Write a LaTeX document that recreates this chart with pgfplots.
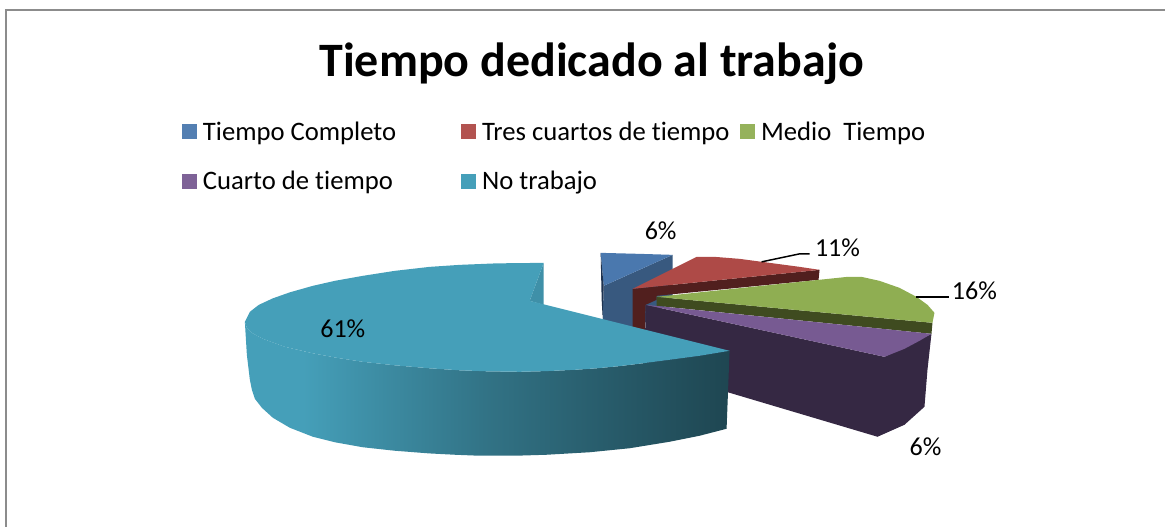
\documentclass[border=0pt]{standalone}
\usepackage{fontspec}
\setmainfont{Carlito}[Ligatures=NoCommon]
\usepackage{pgfplots}
\pgfplotsset{compat=1.18}
\definecolor{blueT}{HTML}{4A78AE}
\definecolor{blueS}{HTML}{38597F}
\definecolor{blueD}{HTML}{1E3350}
\definecolor{redT}{HTML}{AE4A47}
\definecolor{redS}{HTML}{511F1E}
\definecolor{greenT}{HTML}{8FAE52}
\definecolor{greenS}{HTML}{3F4B20}
\definecolor{purpleT}{HTML}{775A92}
\definecolor{purpleS}{HTML}{352843}
\definecolor{tealT}{HTML}{459FB9}
\definecolor{tealI}{HTML}{3F90A8}
\definecolor{frame}{HTML}{8C8C8C}
% side wall of the big slice: stops 25bp..75bp span the slice's width
\pgfdeclarehorizontalshading{tealside}{100bp}{
  color(0bp)=(tealT); color(27bp)=(tealT); color(31bp)=(tealT);
  color(39bp)=(tealT!88!black); color(50bp)=(tealT!72!black);
  color(62bp)=(tealT!58!black); color(75bp)=(tealT!44!black); color(100bp)=(tealT!44!black)}
\newcommand{\lgd}[1]{\makebox[190.25pt][l]{\hspace*{2.6pt}#1}}
\begin{document}
\begin{tikzpicture}
\begin{axis}[
  scale only axis, width=874.5pt, height=395.25pt,
  xmin=0, xmax=1166, ymin=0, ymax=527, y dir=reverse,
  axis lines=none, clip=false,
  legend columns=3,
  legend cell align=left,
  legend image code/.code={\fill[#1] (0pt,-5.6pt) rectangle (11.2pt,5.6pt);},
  legend style={at={(axis cs:182,119)}, anchor=north west, draw=none, fill=none,
    inner sep=0pt, outer sep=0pt, font=\fontsize{20}{24}\selectfont,
    /tikz/every even column/.append style={column sep=4pt},
    row sep=18pt},
]
\path (axis cs:0,0) rectangle (axis cs:1166,527);
\addlegendimage{fill=blueT!95!white, draw=none}
\addlegendentry{\lgd{Tiempo Completo}}
\addlegendimage{fill=redT!95!white, draw=none}
\addlegendentry{\lgd{Tres cuartos de tiempo}}
\addlegendimage{fill=greenT!95!white, draw=none}
\addlegendentry{\hspace*{2.6pt}Medio\ \ Tiempo}
\addlegendimage{fill=purpleT!95!white, draw=none}
\addlegendentry{\lgd{Cuarto de tiempo}}
\addlegendimage{fill=tealT, draw=none}
\addlegendentry{\lgd{No trabajo}}

% frame
\addplot[frame, line width=1.6pt] coordinates {(6,527) (6,10)};
\addplot[frame, line width=1pt] coordinates {(5,10) (1166,10)};

% Tiempo Completo
\addplot[fill=blueS, draw=none] coordinates {(604,286) (673,255) (673,300) (634,332) (603,322)};
\addplot[fill=blueT, draw=none] coordinates {(601,253) (640,254) (673,255) (604,286)};
\addplot[fill=blueD, draw=none] coordinates {(601,253) (604,286) (603,318) (602,300)};

% Tres cuartos de tiempo
\addplot[fill=redS, draw=none] coordinates {(633,289) (820,270) (819,280) (657,296) (657,300) (646,305) (645,350) (633,345)};
\addplot[fill=redT, draw=none] coordinates {(633,289) (697,257) (715,257) (740,259) (770,263) (800,267) (820,270)};

% Medio Tiempo
\addplot[fill=greenS, draw=none] coordinates {(657,297) (933,323) (932,334) (657,306)};
\addplot[fill=greenT, draw=none] coordinates {(657,297) (848,277) (862,277) (880,281) (900,288) (917,297) (928,305) (935,313) (933,323)};

% Cuarto de tiempo
\addplot[fill=purpleS, draw=none] coordinates {(646,305) (885,357) (932,334) (928,370) (925,407) (905,425) (878,437) (730,393) (645,365)};
\addplot[fill=purpleT, draw=none] coordinates {(646,305) (932,334) (920,341) (905,349) (885,357)};

% No trabajo
\addplot[fill=tealI, draw=none] coordinates {(544,263) (530,301) (544,305)};
\addplot[shading=tealside, draw=none] coordinates {
  (245,322) (247,328) (252,333) (263,339) (285,347) (313,353.5) (337,358) (363,362) (395,365.5)
  (430,368.5) (460,370.5) (487,371.5) (520,372) (547,371.3) (575,370) (597,368.5) (620,366.3)
  (643,363.5) (670,360) (700,356) (730,351) (727,429) (700,436) (670,442) (630,448.5)
  (590,452.5) (547,455) (515,456) (480,456) (455,455) (430,453.7) (395,451) (363,447.5)
  (335,442.5) (313,437) (290,428) (273,418) (262,408) (255,399) (252,390) (250,380) (247,355)};
\addplot[fill=tealT, draw=none] coordinates {
  (544,263) (497,263.5) (460,265) (430,267) (395,271) (363,276) (335,281) (313,286)
  (290,292.5) (273,298.5) (259,305) (250,312) (245,322) (247,328) (252,333) (263,339) (285,347)
  (313,353.5) (337,358) (363,362) (395,365.5) (430,368.5) (460,370.5) (487,371.5) (520,372)
  (547,371.3) (575,370) (597,368.5) (620,366.3) (643,363.5) (670,360) (700,356) (730,351)
  (530,301)};

% leader lines
\addplot[black, line width=1.1pt] coordinates {(762,262) (800,254) (810,254)};
\addplot[black, line width=1.1pt] coordinates {(917,297) (950,297)};

% texts
\node[font=\fontsize{36}{40}\selectfont\bfseries] at (axis cs:592,64) {Tiempo dedicado al trabajo};
\begin{scope}[every node/.style={font=\fontsize{19.5}{22}\selectfont, inner sep=0pt}]
\node at (axis cs:661,231) {6\%};
\node at (axis cs:838,248) {11\%};
\node at (axis cs:975,291) {16\%};
\node at (axis cs:926,447) {6\%};
\node at (axis cs:343,329) {61\%};
\end{scope}
\end{axis}
\end{tikzpicture}
\end{document}
